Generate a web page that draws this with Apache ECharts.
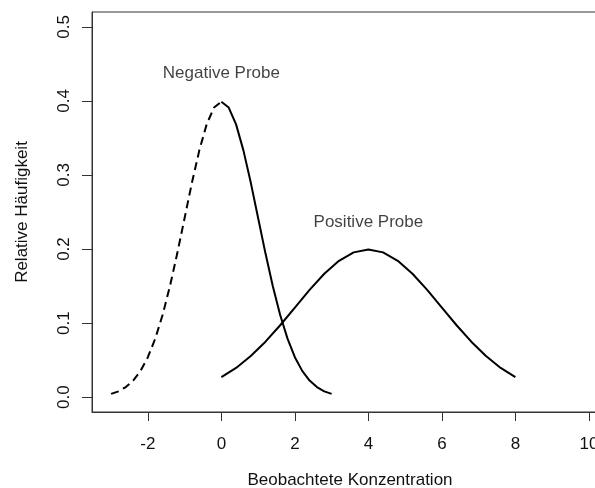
<!DOCTYPE html>
<html><head><meta charset="utf-8">
<script src="https://cdn.jsdelivr.net/npm/echarts@6/dist/echarts.min.js"></script>
<style>html,body{margin:0;padding:0;background:#fff}#c{width:595px;height:488px}</style>
</head><body><div id="c"></div>
<script>
// Negative sample, dashed part x<=0, solid part x>=0
const negDashX = [-3.0,-2.8,-2.6,-2.4,-2.2,-2.0,-1.8,-1.6,-1.4,-1.2,-1.0,-0.8,-0.6,-0.4,-0.2,0.0];
const negDashY = [0.0044,0.0079,0.0136,0.0224,0.0355,0.0540,0.0790,0.1109,0.1497,0.1942,0.2420,0.2897,0.3332,0.3683,0.3910,0.3989];
const negSolidX = [0.0,0.2,0.4,0.6,0.8,1.0,1.2,1.4,1.6,1.8,2.0,2.2,2.4,2.6,2.8,3.0];
const negSolidY = [0.3989,0.3910,0.3683,0.3332,0.2897,0.2420,0.1942,0.1497,0.1109,0.0790,0.0540,0.0355,0.0224,0.0136,0.0079,0.0044];
// Positive sample
const posX = [0.0,0.4,0.8,1.2,1.6,2.0,2.4,2.8,3.2,3.6,4.0,4.4,4.8,5.2,5.6,6.0,6.4,6.8,7.2,7.6,8.0];
const posY = [0.0270,0.0395,0.0555,0.0749,0.0971,0.1210,0.1449,0.1666,0.1841,0.1955,0.1995,0.1955,0.1841,0.1666,0.1449,0.1210,0.0971,0.0749,0.0555,0.0395,0.0270];
// Annotations
const labelTexts = ['Negative Probe','Positive Probe'];
const labelX = [0, 4];
const labelY = [0.437, 0.236];
// Ticks
const xTicks = [-2,0,2,4,6,8,10];
const yTicks = [0,0.1,0.2,0.3,0.4,0.5];

const zip = (a,b) => a.map((v,i)=>[v,b[i]]);
const FONT = 'Liberation Sans';
const TXT = '#111';
const FS = 17;

const chart = echarts.init(document.getElementById('c'), null, {renderer:'canvas'});
chart.setOption({
  animation:false,
  grid:{left:92, top:12, width:516, height:400, containLabel:false, outerBoundsMode:'none',
    show:true, borderColor:'#333', borderWidth:1, backgroundColor:'transparent'},
  xAxis:{type:'value', min:-3.52, max:10.52,
    name:'Beobachtete Konzentration', nameLocation:'middle', nameGap:60, nameMoveOverlap:false,
    nameTextStyle:{fontFamily:FONT, fontSize:FS, color:TXT},
    axisLine:{show:true, onZero:false, lineStyle:{color:'#333', width:1}},
    axisTick:{show:true, length:9, customValues:xTicks, lineStyle:{color:'#333'}},
    axisLabel:{customValues:xTicks, margin:24, hideOverlap:false, fontFamily:FONT, fontSize:FS, color:TXT},
    splitLine:{show:false}},
  yAxis:{type:'value', min:-0.02, max:0.52,
    name:'Relative Häufigkeit', nameLocation:'middle', nameGap:61, nameRotate:90, nameMoveOverlap:false,
    nameTextStyle:{fontFamily:FONT, fontSize:FS, color:TXT},
    axisLine:{show:true, onZero:false, lineStyle:{color:'#333', width:1}},
    axisTick:{show:true, length:10, customValues:yTicks, lineStyle:{color:'#333'}},
    axisLabel:{customValues:yTicks, rotate:90, margin:19, fontFamily:FONT, fontSize:FS, color:TXT,
      formatter:v=>v.toFixed(1)},
    splitLine:{show:false}},
  series:[
    {type:'line', data:zip(negDashX,negDashY), showSymbol:false, lineStyle:{color:'#000', width:2, type:[8,5]}},
    {type:'line', data:zip(negSolidX,negSolidY), showSymbol:false, lineStyle:{color:'#000', width:2}},
    {type:'line', data:zip(posX,posY), showSymbol:false, lineStyle:{color:'#000', width:2}},
    {type:'scatter', symbolSize:0, data:labelX.map((x,i)=>[x,labelY[i],labelTexts[i]]),
      label:{show:true, position:'inside', formatter:p=>p.value[2], fontFamily:FONT, fontSize:FS, color:TXT}}
  ]
});
</script></body></html>
